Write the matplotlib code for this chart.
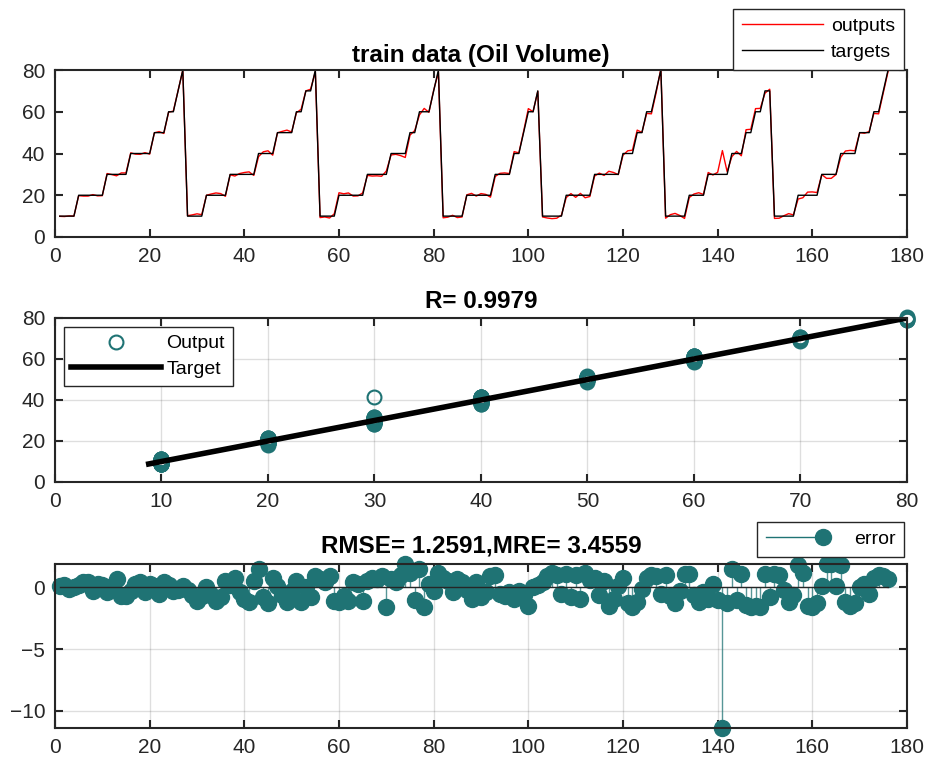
import matplotlib
matplotlib.use('Agg')
import matplotlib.pyplot as plt
from matplotlib.lines import Line2D
from matplotlib.legend_handler import HandlerBase
import numpy as np

plt.rcParams['font.family'] = ['Liberation Sans', 'DejaVu Sans']

# ---- data ----
# each cycle: (level, how many samples it is held)
cycles = [
    [(10, 4), (20, 6), (30, 5), (40, 5), (50, 3), (60, 2), (70, 1), (80, 1)],
    [(10, 4), (20, 5), (30, 6), (40, 4), (50, 4), (60, 2), (70, 2), (80, 1)],
    [(10, 4), (20, 6), (30, 5), (40, 4), (50, 2), (60, 3), (70, 1), (80, 1)],
    [(10, 5), (20, 6), (30, 4), (40, 2), (50, 1), (60, 2), (70, 1)],
    [(10, 5), (20, 6), (30, 6), (40, 3), (50, 2), (60, 2), (70, 1), (80, 1)],
    [(10, 5), (20, 4), (30, 5), (40, 3), (50, 2), (60, 2), (70, 2)],
    [(10, 5), (20, 5), (30, 4), (40, 4), (50, 3), (60, 2), (70, 1), (80, 1)],
]
targets = np.array([lv for c in cycles for lv, n in c for _ in range(n)], dtype=float)

# error = targets - outputs
error = np.array([
    0.1, 0.2, -0.1, 0.0, 0.2, 0.4, 0.4, -0.3, 0.3, 0.2,
    -0.4, 0.1, 0.7, -0.7, -0.7, -0.3, 0.3, 0.4, -0.4, 0.3,
    0.1, -0.5, 0.4, 0.2, -0.3, -0.2, 0.1, -0.2, -0.6, -1.1,
    -0.7, 0.0, -0.6, -1.1, -0.8, 0.5, 0.2, 0.8, -0.4, -0.9,
    -1.2, 0.5, 1.5, -0.8, -1.3, 0.8, 0.1, -0.6, -1.2, -0.3,
    0.5, -1.2, 0.0, -0.8, 0.9, 0.7, 0.4, 0.9, -1.1, -1.2,
    -0.7, -1.1, 0.4, 0.3, -1.1, 0.5, 0.8, 0.7, 0.9, -1.6,
    0.7, 0.4, 1.0, 1.9, 1.2, -1.0, 1.5, -1.6, 0.3, -0.3,
    1.2, 0.8, 0.5, -0.4, 0.7, 0.4, -0.2, -0.9, 0.4, -0.8,
    -0.4, 0.9, 1.0, -0.5, -0.7, -0.4, -0.9, -0.3, -0.6, -1.5,
    0.0, 0.2, 0.4, 0.9, 1.2, 1.0, -0.5, 1.1, -0.8, 1.0,
    -0.9, 1.2, 0.6, 0.8, -0.6, 0.5, -1.5, -0.9, 0.1, 0.8,
    -1.3, -1.6, -1.2, -0.1, 0.8, 1.0, 0.9, -0.5, 1.0, -0.7,
    -1.3, -0.3, 1.1, 1.1, -0.6, -1.2, -0.4, -0.9, 0.3, -1.0,
    -11.4, -1.3, 1.5, -1.0, 1.1, -1.4, -1.6, -1.5, -1.6, 1.1,
    -0.8, 1.1, 1.0, -0.2, -1.2, -0.6, 1.8, 1.2, -1.5, -1.6,
    -1.3, 0.1, 1.9, 1.9, 0.1, 1.8, -1.2, -1.5, -1.3, 0.0,
    0.3, -0.5, 0.8, 1.0, 0.9, 0.7,
])
outputs = targets - error
idx = np.arange(1, len(targets) + 1)

title_top = 'train data (Oil Volume)'
title_mid = 'R= 0.9979'
title_bot = 'RMSE= 1.2591,MRE= 3.4559'

teal = '#1f7374'
spine_c = '#262626'
fs_tick = 15
fs_title = 17.5
fs_leg = 14

fig = plt.figure(figsize=(9.29, 7.62), dpi=100)
W, H = 929, 762

def make_ax(top_px, bot_px):
    return fig.add_axes([55 / W, 1 - bot_px / H, 852 / W, (bot_px - top_px) / H])

def style(ax):
    for s in ax.spines.values():
        s.set_color(spine_c)
        s.set_linewidth(1.5)
    ax.tick_params(direction='in', length=6, width=1.5, color=spine_c,
                   top=True, right=True, labelsize=fs_tick, labelcolor=spine_c, pad=7)

# legend entry like matlab's stem: line with the marker at its right end
class StemHandler(HandlerBase):
    def create_artists(self, legend, orig_handle, xdescent, ydescent,
                       width, height, fontsize, trans):
        y = height / 2 - ydescent
        ln = Line2D([-xdescent, width - xdescent], [y, y], color=teal, lw=1.0)
        mk = Line2D([width - xdescent], [y], ls='none', marker='o', ms=11.5,
                    mfc=teal, mec=teal)
        ln.set_transform(trans)
        mk.set_transform(trans)
        return [ln, mk]

# ===== top: outputs vs targets =====
ax1 = make_ax(70, 237)
ax1.plot(idx, outputs, color='#ff0000', lw=1.0, label='outputs')
ax1.plot(idx, targets, color='black', lw=1.0, label='targets')
ax1.set_xlim(0, 180)
ax1.set_ylim(0, 80)
ax1.set_xticks(np.arange(0, 181, 20))
ax1.set_yticks(np.arange(0, 81, 20))
style(ax1)
ax1.set_title(title_top, fontsize=fs_title, fontweight='bold', pad=6)
leg1 = ax1.legend(loc='lower right', bbox_to_anchor=(0.9965, 1.0), borderaxespad=0,
                  fontsize=fs_leg, fancybox=False, edgecolor=spine_c, handlelength=4.2,
                  framealpha=1, borderpad=0.45, labelspacing=0.45, handletextpad=0.4)
leg1.get_frame().set_linewidth(1.0)

# ===== middle: regression =====
ax2 = make_ax(318, 482)
ax2.plot(targets, outputs, 'o', mfc='none', mec=teal, mew=1.5, ms=10, label='Output',
         clip_on=False)
lo, hi = outputs.min(), outputs.max()
ax2.plot([lo, hi], [lo, hi], color='black', lw=4, label='Target')
ax2.set_xlim(0, 80)
ax2.set_ylim(0, 80)
ax2.set_xticks(np.arange(0, 81, 10))
ax2.set_yticks(np.arange(0, 81, 20))
ax2.grid(True, color=spine_c, alpha=0.15, lw=1)
ax2.set_axisbelow(True)
style(ax2)
ax2.set_title(title_mid, fontsize=fs_title, fontweight='bold', pad=7)
leg2 = ax2.legend(loc='upper left', bbox_to_anchor=(0.01, 0.945), borderaxespad=0,
                  fontsize=fs_leg, fancybox=False, edgecolor=spine_c, handlelength=4.6,
                  framealpha=1, borderpad=0.4, labelspacing=0.4, handletextpad=0.3)
leg2.get_frame().set_linewidth(1.0)

# ===== bottom: error stem =====
ax3 = make_ax(564, 728)
ml, sl, bl = ax3.stem(idx, error, basefmt='-')
plt.setp(sl, color=teal, lw=1.0, alpha=0.75)
plt.setp(ml, color=teal, mfc=teal, mec=teal, ms=11.5, clip_on=False)
plt.setp(bl, color=spine_c, lw=1.0)
ax3.set_xlim(0, 180)
ax3.set_ylim(error.min(), error.max())
ax3.set_xticks(np.arange(0, 181, 20))
ax3.set_yticks([-10, -5, 0])
ax3.grid(True, color=spine_c, alpha=0.15, lw=1)
ax3.set_axisbelow(True)
style(ax3)
ax3.set_title(title_bot, fontsize=fs_title, fontweight='bold', pad=8)
leg3 = ax3.legend([object()], ['error'], handler_map={object: StemHandler()},
                  loc='lower right', bbox_to_anchor=(0.9965, 1.045),
                  borderaxespad=0, fontsize=fs_leg, fancybox=False, edgecolor=spine_c,
                  handlelength=2.9, framealpha=1, borderpad=0.45, handletextpad=1.6)
leg3.get_frame().set_linewidth(1.0)

fig.savefig('out.png', dpi=100, facecolor='white')
